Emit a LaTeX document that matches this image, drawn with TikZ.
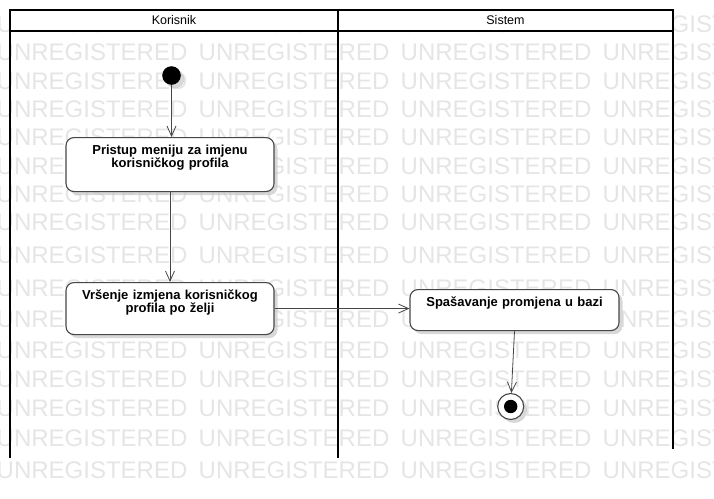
\documentclass[tikz,border=0pt]{standalone}
\usepackage{fontspec}
\setmainfont{Liberation Sans}
\usepackage{tikz}
\usetikzlibrary{arrows.meta}
\usetikzlibrary{shadows}
\definecolor{wmgray}{gray}{0.9}
\definecolor{edgegray}{gray}{0.28}
\newcommand{\wmrow}[2]{ \node[wmtext] (wm#1a) at (-3.5, #2) {UNREGISTERED}; \node[wmtext] (wm#1b) at (198.5, #2) {UNREGISTERED}; \node[wmtext] (wm#1c) at (400.5, #2) {UNREGISTERED}; \node[wmtext] (wm#1d) at (602.5, #2) {UNREGISTERED};}
\tikzset{
  wmtext/.style={anchor=base west, inner sep=0pt, text=wmgray, font=\fontsize{24}{24}\selectfont},
  lane/.style={line width=2pt},
  lanehead/.style={font=\fontsize{12.5}{14}\selectfont},
  boxshadow/.style={drop shadow={shadow xshift=3.5pt, shadow yshift=-3.5pt, fill=black!22, opacity=.7}},
  actbox/.style={draw=edgegray, line width=1.1pt, fill=white, rounded corners=8pt, anchor=north, align=center, text width=192pt, inner xsep=8pt, inner ysep=7.5pt, text height=9.5pt, font=\bfseries\fontsize{13}{12.5}\selectfont, boxshadow},
  initstate/.style={circle, fill=black, minimum size=18.6pt, inner sep=0pt, boxshadow},
  finalstate/.style={circle, draw=edgegray, line width=1.1pt, fill=white, minimum size=26pt, inner sep=0pt, boxshadow, path picture={\fill[black] (path picture bounding box.center) circle (6.7pt);}},
  flow/.style={-{Straight Barb[length=10pt, width=9pt]}, draw=edgegray, line width=0.8pt}
}

\begin{document}
\begin{tikzpicture}[x=1pt, y=-1pt]
        \useasboundingbox (0,0) rectangle (714,498);
        \clip (0,0) rectangle (714,498);
        % watermark
        \wmrow{0}{32.2}
        \wmrow{1}{60.2}
        \wmrow{2}{89.2}
        \wmrow{3}{117.2}
        \wmrow{4}{145.2}
        \wmrow{5}{174.2}
        \wmrow{6}{202.2}
        \wmrow{7}{230.2}
        \wmrow{8}{263.2}
        \wmrow{9}{296.2}
        \wmrow{10}{327.2}
        \wmrow{11}{358.2}
        \wmrow{12}{387.2}
        \wmrow{13}{416.2}
        \wmrow{14}{446.2}
        \wmrow{15}{478.2}
        % lanes
        \draw[lane, fill=white] (10,10) rectangle (673,31);
        \draw[lane] (338,10) -- (338,458);
        \draw[lane] (10,31) -- (10,458);
        \draw[lane] (673,31) -- (673,449);
        \node[lanehead] (korisnik) at (174,20.5) {Korisnik};
        \node[lanehead] (sistem) at (505.5,20.5) {Sistem};
        % states
        \node[initstate] (pocetak) at (171.5,75.5) {};
        \node[actbox, text depth=29.5pt] (pristup) at (170,137) {Pristup meniju za imjenu\\korisničkog profila};
        \node[actbox, text depth=27.5pt] (izmjena) at (170,282) {Vršenje izmjena korisničkog\\profila po želji};
        \node[actbox, text depth=16.5pt, text width=193pt] (spasavanje) at (514.5,289) {Spašavanje promjena u bazi};
        \node[finalstate] (kraj) at (510.7,406.5) {};
        % flows
        \draw[flow] (pocetak) -- (pocetak |- pristup.north);
        \draw[flow] (pristup.south) -- (izmjena.north);
        \draw[flow] (izmjena.east) -- (spasavanje.west |- izmjena.east);
        \draw[flow] (spasavanje.south) -- (kraj);
\end{tikzpicture}
\end{document}
